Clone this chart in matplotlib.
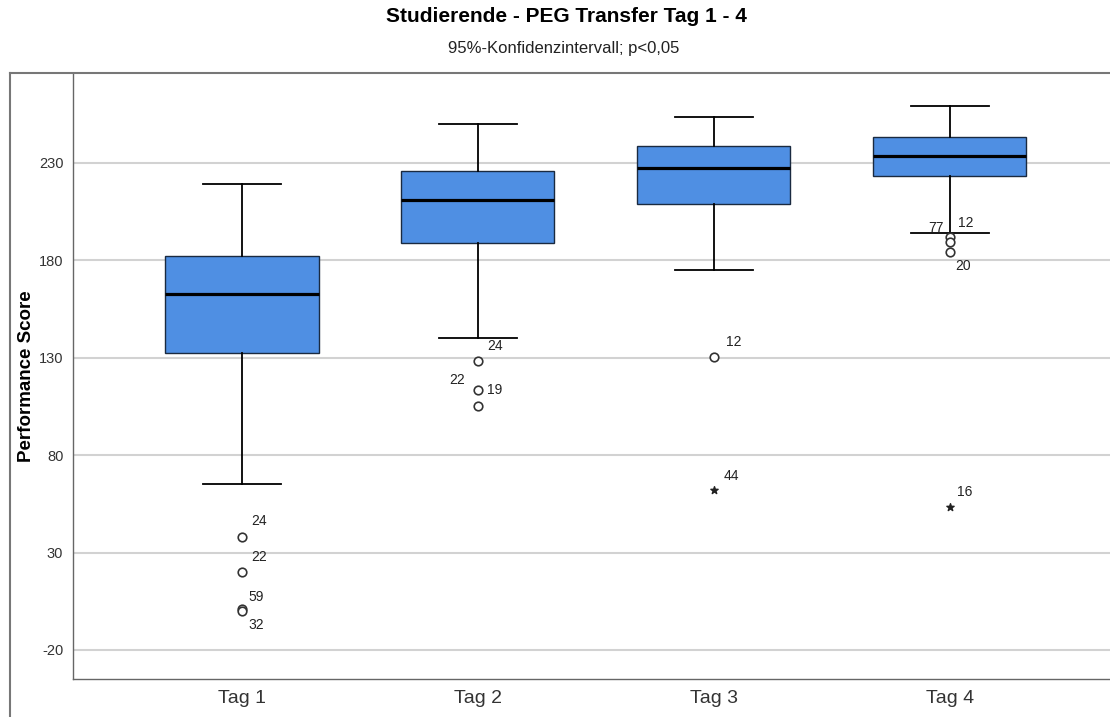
import matplotlib
matplotlib.use("Agg")
import matplotlib.pyplot as plt
from matplotlib.lines import Line2D

plt.rcParams['font.family'] = ['Liberation Sans', 'DejaVu Sans']
plt.rcParams['axes.unicode_minus'] = False

# Daten
tage = ["Tag 1", "Tag 2", "Tag 3", "Tag 4"]
unten = [65, 140, 175, 194]
q1 = [132.5, 189, 209, 223.3]
median = [162.8, 211, 227.4, 233.6]
q3 = [182.3, 226, 238.7, 243.3]
oben = [219, 250, 253.6, 259.3]

# Ausreisser (Kreis) und Extremwerte (Stern)
ausreisser = [[38, 20, 1, 0], [128.4, 113.5, 105.3], [130.4], [192.2, 189.6, 184.5]]
extreme = [[], [], [62], [53.4]]

# Beschriftungen: (Tag-Index, Wert, Text, dx, dy) in Pixeln
labels = [
    (0, 38, "24", 15, 16), (0, 20, "22", 15, 15), (0, 1, "59", 13, 12), (0, 0, "32", 13, -14),
    (1, 128.4, "24", 15, 15), (1, 113.5, "22", -13, 10), (1, 113.5, "19", 15, 0),
    (2, 130.4, "12", 18, 15), (2, 62, "44", 16, 14),
    (3, 192.2, "77", -6, 9), (3, 192.2, "12", 14, 14), (3, 184.5, "20", 12, -14),
    (3, 53.4, "16", 13, 15),
]

fig = plt.figure(figsize=(11.1, 7.17), dpi=100)
ax = fig.add_axes([73/1110, 38/717, (1110-73)/1110, (679-73)/717])

stats = []
for i in range(4):
    stats.append(dict(med=median[i], q1=q1[i], q3=q3[i], whislo=unten[i], whishi=oben[i], fliers=[]))

pos = [1, 2, 3, 4]
ax.bxp(stats, positions=pos, widths=0.65, patch_artist=True, showfliers=False,
       boxprops=dict(facecolor="#4f8fe3", edgecolor="#1a2a40", linewidth=1),
       medianprops=dict(color="black", linewidth=2.3),
       whiskerprops=dict(color="black", linewidth=1.3),
       capprops=dict(color="black", linewidth=1.3), capwidths=0.33, zorder=3)

for i in range(4):
    if ausreisser[i]:
        ax.scatter([pos[i]] * len(ausreisser[i]), ausreisser[i], s=38, facecolors="white",
                   edgecolors="#333333", linewidths=1.2, zorder=4)
    if extreme[i]:
        ax.scatter([pos[i]] * len(extreme[i]), extreme[i], marker="*", s=30, color="#222222", zorder=4)

for i, v, t, dx, dy in labels:
    ha = "right" if dx < 0 else "left"
    ax.annotate(t, xy=(pos[i], v), xytext=(dx if dx < 0 else dx - 6, dy), textcoords="offset pixels",
                ha=ha, va="center", fontsize=10, color="#222222", zorder=5)

ax.set_xlim(0.284, 4.68)
ax.set_ylim(-34.9, 276.2)
ax.set_yticks([-20, 30, 80, 130, 180, 230])
ax.set_xticks(pos)
ax.set_xticklabels(tage, fontsize=14, color="#333333")
ax.tick_params(axis="y", labelsize=10.5, colors="#333333", length=0, pad=7)
ax.tick_params(axis="x", length=0, pad=8)
ax.grid(axis="y", color="#d2d2d2", linewidth=1.5, zorder=0)
ax.set_axisbelow(True)
for s in ["top", "right"]:
    ax.spines[s].set_visible(False)
for s in ["left", "bottom"]:
    ax.spines[s].set_color("#666666")
    ax.spines[s].set_linewidth(1)
ax.set_ylabel("Performance Score", fontsize=13.5, fontweight="bold")
ax.yaxis.set_label_coords(-0.037, 0.5)

# aeusserer Rahmen
fig.add_artist(Line2D([10/1110, 1], [1 - 73/717, 1 - 73/717], color="#777777", linewidth=1.5))
fig.add_artist(Line2D([10/1110, 10/1110], [0, 1 - 73/717], color="#777777", linewidth=1.5))

fig.text(566/1110, 1 - 17/717, "Studierende - PEG Transfer Tag 1 - 4", ha="center", va="center",
         fontsize=15, fontweight="bold")
fig.text(564/1110, 1 - 48/717, "95%-Konfidenzintervall; p<0,05", ha="center", va="center",
         fontsize=12, color="#222222")

fig.savefig("out.png", dpi=100)
